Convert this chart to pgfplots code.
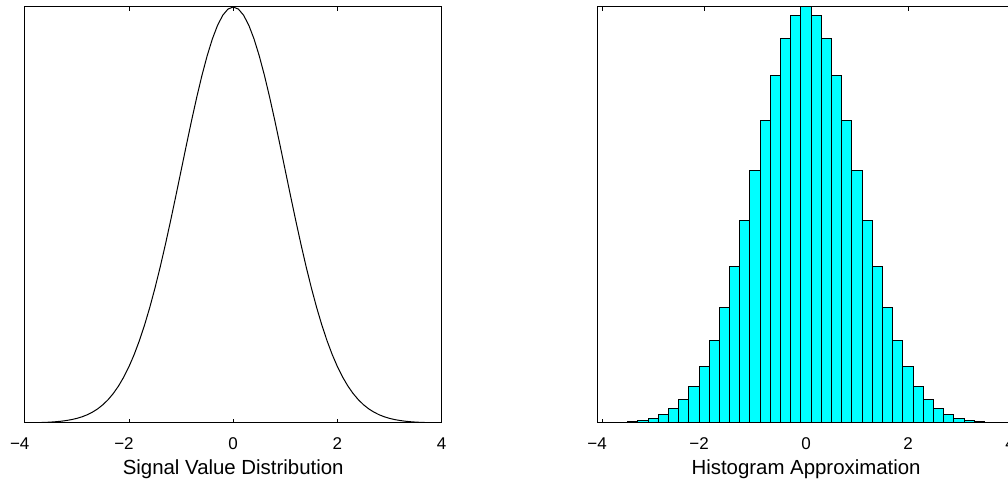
\documentclass[border=0pt]{standalone}
\usepackage{pgfplots}
\pgfplotsset{compat=1.18}
\usepackage{pgfplotstable}
\usepackage{fontspec}
\setmainfont{Liberation Sans}
\definecolor{histcyan}{rgb}{0,1,1}

\pgfplotstableread{
x y
-4.0 0.0003
-3.9 0.0005
-3.8 0.0007
-3.7 0.0011
-3.6 0.0015
-3.5 0.0022
-3.4 0.0031
-3.3 0.0043
-3.2 0.0060
-3.1 0.0082
-3.0 0.0111
-2.9 0.0149
-2.8 0.0198
-2.7 0.0261
-2.6 0.0340
-2.5 0.0439
-2.4 0.0561
-2.3 0.0710
-2.2 0.0889
-2.1 0.1103
-2.0 0.1353
-1.9 0.1645
-1.8 0.1979
-1.7 0.2357
-1.6 0.2780
-1.5 0.3247
-1.4 0.3753
-1.3 0.4296
-1.2 0.4868
-1.1 0.5461
-1.0 0.6065
-0.9 0.6670
-0.8 0.7261
-0.7 0.7827
-0.6 0.8353
-0.5 0.8825
-0.4 0.9231
-0.3 0.9560
-0.2 0.9802
-0.1 0.9950
0.0 1.0000
0.1 0.9950
0.2 0.9802
0.3 0.9560
0.4 0.9231
0.5 0.8825
0.6 0.8353
0.7 0.7827
0.8 0.7261
0.9 0.6670
1.0 0.6065
1.1 0.5461
1.2 0.4868
1.3 0.4296
1.4 0.3753
1.5 0.3247
1.6 0.2780
1.7 0.2357
1.8 0.1979
1.9 0.1645
2.0 0.1353
2.1 0.1103
2.2 0.0889
2.3 0.0710
2.4 0.0561
2.5 0.0439
2.6 0.0340
2.7 0.0261
2.8 0.0198
2.9 0.0149
3.0 0.0111
3.1 0.0082
3.2 0.0060
3.3 0.0043
3.4 0.0031
3.5 0.0022
3.6 0.0015
3.7 0.0011
3.8 0.0007
3.9 0.0005
4.0 0.0003
}\curvedata

\pgfplotstableread{
x y
-3.8 0.0007
-3.6 0.0015
-3.4 0.0031
-3.2 0.0060
-3.0 0.0111
-2.8 0.0198
-2.6 0.0340
-2.4 0.0561
-2.2 0.0889
-2.0 0.1353
-1.8 0.1979
-1.6 0.2780
-1.4 0.3753
-1.2 0.4868
-1.0 0.6065
-0.8 0.7261
-0.6 0.8353
-0.4 0.9231
-0.2 0.9802
0.0 1.0000
0.2 0.9802
0.4 0.9231
0.6 0.8353
0.8 0.7261
1.0 0.6065
1.2 0.4868
1.4 0.3753
1.6 0.2780
1.8 0.1979
2.0 0.1353
2.2 0.0889
2.4 0.0561
2.6 0.0340
2.8 0.0198
3.0 0.0111
3.2 0.0060
3.4 0.0031
3.6 0.0015
3.8 0.0007
}\histdata

\pgfplotsset{
  mlstyle/.style={
    scale only axis,
    anchor=north west,
    height=208pt,
    ymin=0, ymax=1,
    ytick=\empty,
    xtick={-4,-2,0,2,4},
    xticklabels={\llap{−}4,\llap{−}2,0,2,4},
    xtick pos=both,
    tick align=inside,
    major tick length=2pt,
    axis line style={line width=0.5pt},
    every tick/.style={black, line width=0.4pt},
    xticklabel style={font=\fontsize{8.5}{10}\selectfont, inner sep=0pt, anchor=north, yshift=-7pt},
    xlabel style={at={(axis description cs:0.5,0)}, anchor=north, inner sep=0pt, yshift=-18pt, font=\fontsize{10.2}{12}\selectfont},
    clip=true,
  }
}

\begin{document}
\begin{tikzpicture}
\path[use as bounding box] (0pt,0pt) rectangle (504pt,-240.5pt);
\begin{axis}[mlstyle, at={(12.35pt,-3.5pt)}, width=208.5pt,
  xmin=-4, xmax=4, xlabel={Signal Value Distribution}]
\addplot[black, line width=0.5pt, no marks] table[x=x,y=y] {\curvedata};
\end{axis}
\begin{axis}[mlstyle, at={(298.5pt,-3.5pt)}, width=209.1pt,
  xmin=-4.1, xmax=4.1, xlabel={Histogram Approximation}]
\addplot[ybar, bar width=0.2, fill=histcyan, draw=black, line width=0.5pt] table[x=x,y=y] {\histdata};
\end{axis}
\end{tikzpicture}
\end{document}
